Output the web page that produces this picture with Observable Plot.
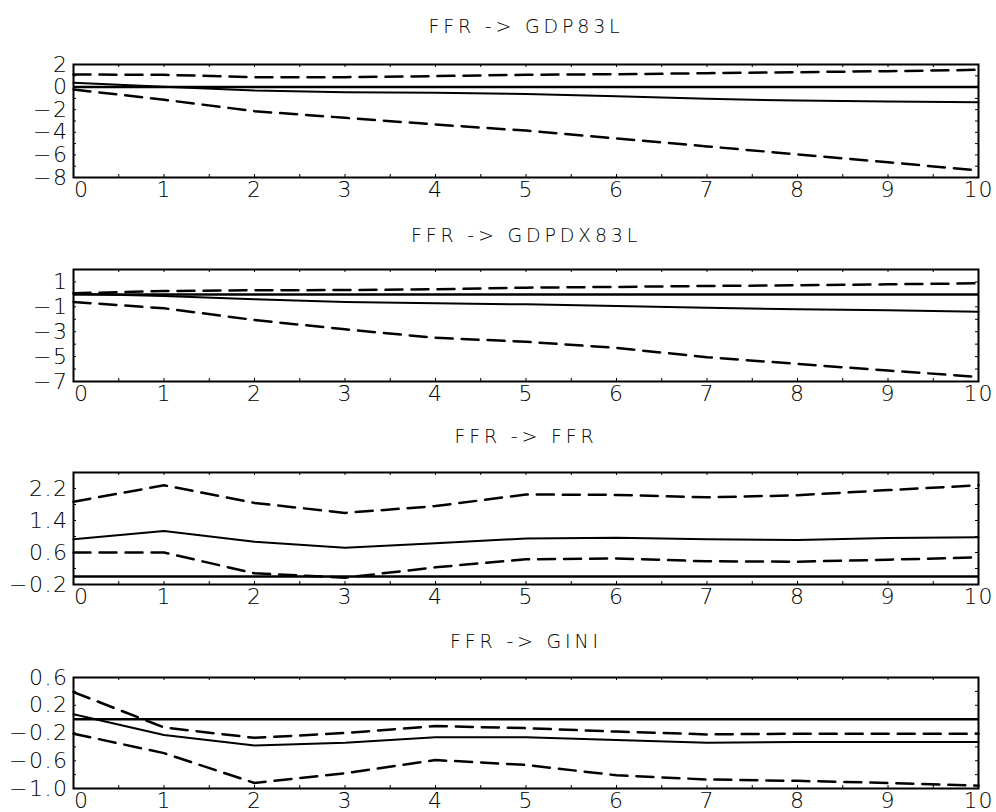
<!DOCTYPE html>
<html>
<head>
<meta charset="utf-8">
<script src="https://cdn.jsdelivr.net/npm/d3@7"></script>
<script src="https://cdn.jsdelivr.net/npm/@observablehq/plot@0.6"></script>
<style>
  html, body { margin: 0; padding: 0; background: #fff; }
  #chart svg { display: block; }
  #chart svg text { font-family: "DejaVu Sans ExtraLight", "DejaVu Sans", sans-serif; font-weight: 200; }
</style>
</head>
<body>
<div id="chart"></div>
<script>
// ---- data ----
const steps = [0, 1, 2, 3, 4, 5, 6, 7, 8, 9, 10];
const xTicks = [0, 1, 2, 3, 4, 5, 6, 7, 8, 9, 10];
const xMinor = [0, 0.5, 1, 1.5, 2, 2.5, 3, 3.5, 4, 4.5, 5, 5.5, 6, 6.5, 7, 7.5, 8, 8.5, 9, 9.5, 10];
const titles = ["FFR -> GDP83L", "FFR -> GDPDX83L", "FFR -> FFR", "FFR -> GINI"];

const gdpResp  = [0.38, 0.03, -0.30, -0.45, -0.50, -0.60, -0.80, -1.04, -1.19, -1.28, -1.34];
const gdpUpper = [1.11, 1.09, 0.88, 0.88, 0.97, 1.09, 1.14, 1.23, 1.32, 1.41, 1.53];
const gdpLower = [-0.21, -1.12, -2.13, -2.72, -3.31, -3.85, -4.55, -5.25, -5.95, -6.65, -7.38];
const gdpTicks = [-8, -6, -4, -2, 0, 2];
const gdpMinor = [-8, -7, -6, -5, -4, -3, -2, -1, 0, 1, 2];

const gdpdxResp  = [0.05, -0.13, -0.40, -0.61, -0.72, -0.80, -0.94, -1.07, -1.20, -1.28, -1.39];
const gdpdxUpper = [0.09, 0.27, 0.33, 0.35, 0.41, 0.54, 0.60, 0.68, 0.73, 0.81, 0.89];
const gdpdxLower = [-0.61, -1.12, -2.06, -2.81, -3.49, -3.81, -4.30, -5.05, -5.59, -6.12, -6.63];
const gdpdxTicks = [-7, -5, -3, -1, 1];
const gdpdxMinor = [-7, -6, -5, -4, -3, -2, -1, 0, 1, 2];

const ffrResp  = [0.93, 1.14, 0.87, 0.72, 0.83, 0.95, 0.97, 0.93, 0.91, 0.96, 0.98];
const ffrUpper = [1.87, 2.28, 1.84, 1.59, 1.76, 2.05, 2.04, 1.98, 2.03, 2.16, 2.28];
const ffrLower = [0.60, 0.60, 0.08, -0.03, 0.23, 0.43, 0.45, 0.38, 0.37, 0.42, 0.48];
const ffrTicks = [-0.2, 0.6, 1.4, 2.2];
const ffrMinor = [-0.2, 0.2, 0.6, 1.0, 1.4, 1.8, 2.2, 2.6];

const giniResp  = [0.07, -0.23, -0.38, -0.34, -0.26, -0.26, -0.30, -0.34, -0.33, -0.33, -0.33];
const giniUpper = [0.39, -0.12, -0.27, -0.20, -0.10, -0.13, -0.18, -0.22, -0.21, -0.21, -0.21];
const giniLower = [-0.21, -0.49, -0.92, -0.78, -0.59, -0.66, -0.81, -0.87, -0.89, -0.92, -0.96];
const giniTicks = [-1.0, -0.6, -0.2, 0.2, 0.6];
const giniMinor = [-1.0, -0.8, -0.6, -0.4, -0.2, 0, 0.2, 0.4, 0.6];

// ---- panels ----
const panels = [
  {title: titles[0], resp: gdpResp, upper: gdpUpper, lower: gdpLower, domain: [-8, 2], ticks: gdpTicks, minor: gdpMinor, fmt: d3.format("d"),
   height: 210, mt: 64, mb: 33, titleDy: -38},
  {title: titles[1], resp: gdpdxResp, upper: gdpdxUpper, lower: gdpdxLower, domain: [-7, 2], ticks: gdpdxTicks, minor: gdpdxMinor, fmt: d3.format("d"),
   height: 210, mt: 59, mb: 39, titleDy: -34},
  {title: titles[2], resp: ffrResp, upper: ffrUpper, lower: ffrLower, domain: [-0.2, 2.6], ticks: ffrTicks, minor: ffrMinor, fmt: d3.format(".1f"),
   height: 210, mt: 52, mb: 46, titleDy: -36},
  {title: titles[3], resp: giniResp, upper: giniUpper, lower: giniLower, domain: [-1.0, 0.6], ticks: giniTicks, minor: giniMinor, fmt: d3.format(".1f"),
   height: 182, mt: 47, mb: 24, titleDy: -36}
];

const W = 996, ML = 73, MR = 18;
const container = document.getElementById("chart");

for (const p of panels) {
  const innerH = p.height - p.mt - p.mb;
  const innerW = W - ML - MR;
  const toRows = arr => steps.map((s, i) => ({step: s, v: arr[i]}));
  const chart = Plot.plot({
    width: W,
    height: p.height,
    marginLeft: ML,
    marginRight: MR,
    marginTop: p.mt,
    marginBottom: p.mb,
    style: {background: "white", color: "black", overflow: "visible"},
    x: {domain: [0, 10]},
    y: {domain: p.domain},
    marks: [
      // inward minor ticks
      Plot.ruleX(xMinor, {stroke: "black", strokeWidth: 1, insetBottom: innerH - 3}),
      Plot.ruleX(xMinor, {stroke: "black", strokeWidth: 1, insetTop: innerH - 3}),
      Plot.ruleY(p.minor, {stroke: "black", strokeWidth: 1, insetRight: innerW - 3}),
      Plot.ruleY(p.minor, {stroke: "black", strokeWidth: 1, insetLeft: innerW - 3}),
      // zero line
      Plot.ruleY([0], {stroke: "black", strokeWidth: 2.5}),
      // bands
      Plot.line(toRows(p.upper), {x: "step", y: "v", stroke: "black", strokeWidth: 2.5, strokeDasharray: "17,9"}),
      Plot.line(toRows(p.lower), {x: "step", y: "v", stroke: "black", strokeWidth: 2.5, strokeDasharray: "17,9"}),
      // response
      Plot.line(toRows(p.resp), {x: "step", y: "v", stroke: "black", strokeWidth: 2}),
      Plot.frame({stroke: "black", strokeWidth: 2}),
      // axes
      Plot.axisY({ticks: p.ticks, tickSize: 0, tickPadding: 5, tickFormat: p.fmt, fontSize: 22, label: null}),
      Plot.axisX({ticks: xTicks.filter(d => d > 0), tickSize: 0, tickPadding: 4, fontSize: 22, label: null}),
      Plot.axisX({ticks: [0], tickSize: 0, tickPadding: 4, dx: 8, fontSize: 22, label: null}),
      // title
      Plot.text([p.title], {frameAnchor: "top", dy: p.titleDy, lineAnchor: "middle", fontSize: 19, fill: "black"})
    ]
  });
  container.appendChild(chart);
}
// widen letter spacing like the stroke font
container.querySelectorAll("svg").forEach(svg => {
  svg.querySelectorAll("g[aria-label='text'] text").forEach(t => t.setAttribute("letter-spacing", "3.8"));
  svg.querySelectorAll("g[aria-label^='y-axis'] text").forEach(t => t.setAttribute("letter-spacing", "1.5"));
  svg.querySelectorAll("g[aria-label^='x-axis'] text").forEach(t => t.setAttribute("letter-spacing", "1"));
});
</script>
</body>
</html>
